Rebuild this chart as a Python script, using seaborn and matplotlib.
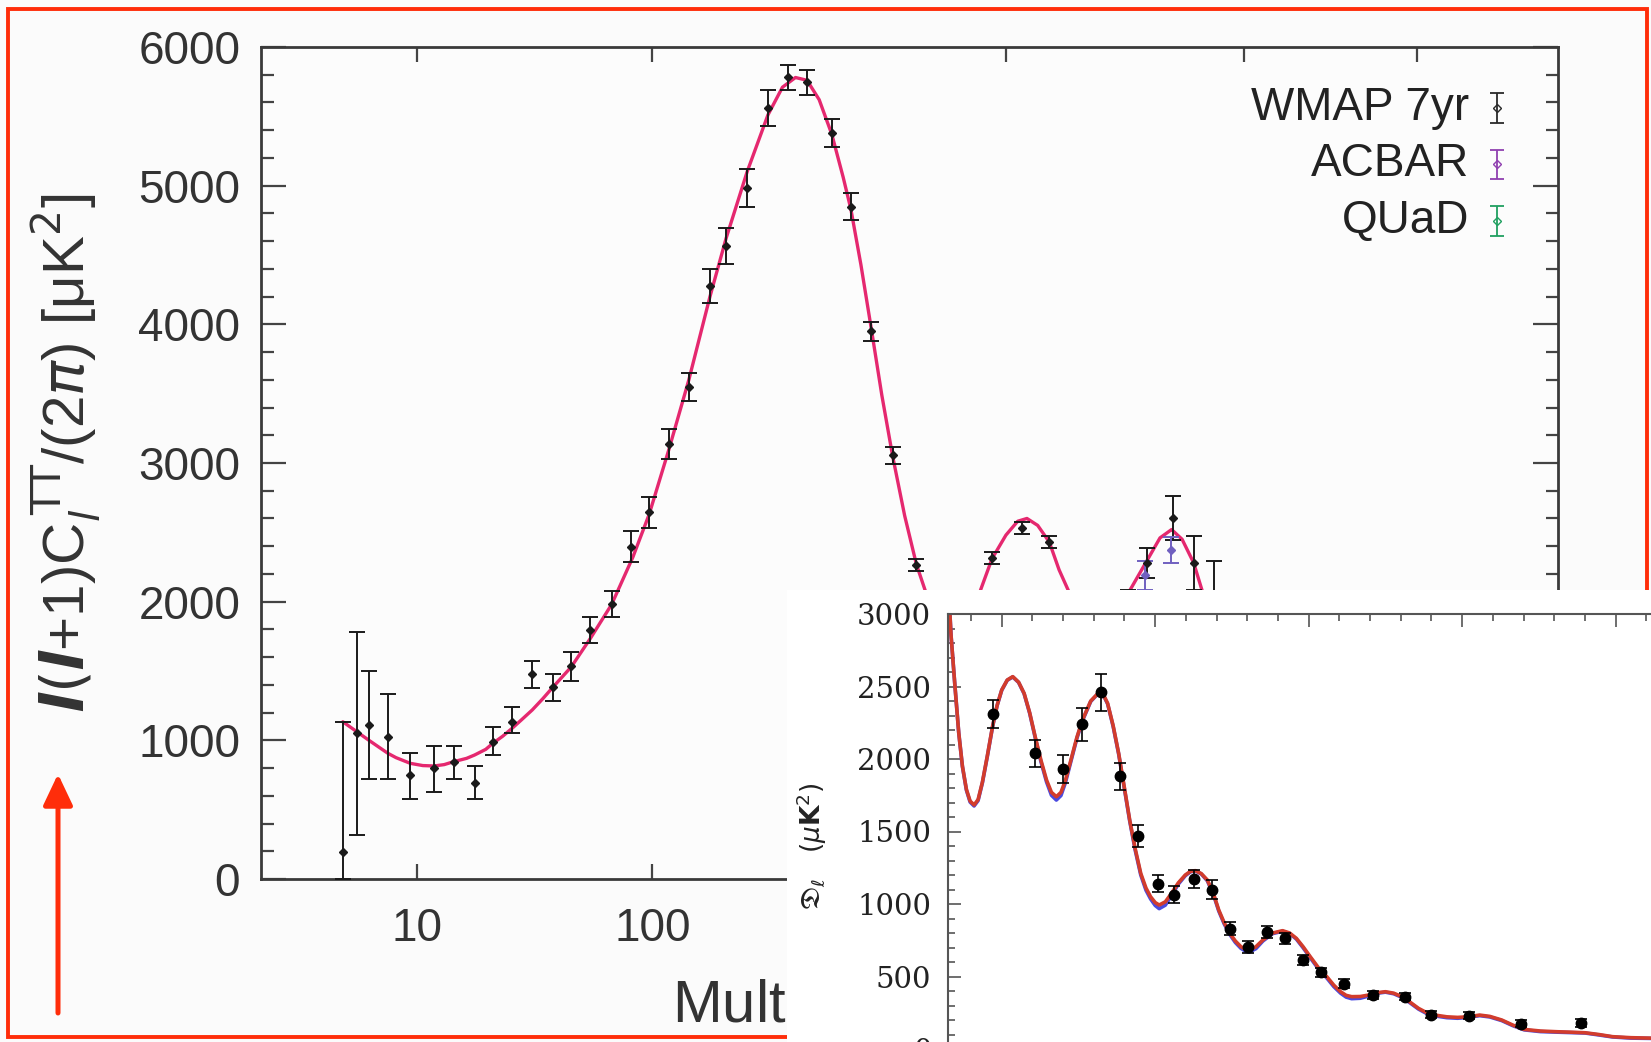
import numpy as np
import matplotlib
matplotlib.use("Agg")
import matplotlib.pyplot as plt
import seaborn as sns
from matplotlib.ticker import MultipleLocator, NullLocator
from matplotlib.patches import Rectangle, FancyArrowPatch

# ---- main panel: WMAP 7yr TT spectrum ----
wmap_model_l = [2, 3, 4, 5, 6, 7, 9, 11, 13, 15, 17, 20, 22, 25, 27, 30, 33, 36, 40, 44,
                48, 56, 65, 76, 88, 98, 111, 125, 141, 154, 172, 191, 205, 218, 230, 243,
                257, 270, 279, 291, 304, 317, 331, 347, 363, 380, 400, 420, 440, 459, 477,
                500, 520, 536, 555, 576, 594, 611, 630, 660, 690, 715, 735, 772, 800, 826,
                850, 877, 900, 930, 960, 1000, 1050, 1100]
wmap_model_d = [1134, 1060, 1000, 950, 906, 875, 834, 818, 815, 825, 846, 870, 894, 935,
                978, 1030, 1087, 1145, 1219, 1300, 1382, 1530, 1735, 1980, 2320, 2630, 3100,
                3600, 4200, 4620, 5100, 5510, 5710, 5780, 5760, 5620, 5370, 5060, 4830, 4430,
                3960, 3490, 3050, 2620, 2270, 2010, 1830, 1760, 1830, 2090, 2310, 2480, 2580,
                2600, 2550, 2430, 2230, 2084, 1900, 1760, 1790, 1930, 2084, 2300, 2460, 2520,
                2450, 2280, 2050, 1750, 1450, 1150, 950, 900]

wmap_l = [2, 3, 4, 6, 9, 13, 17, 22, 27, 33, 40, 48, 56, 65, 76, 87, 98, 111, 125, 141,
          154, 172, 191, 210, 230, 257, 279, 304, 331, 363, 477, 528, 576, 730, 772, 830,
          877, 925]
wmap_d = [197, 1051, 1110, 1026, 750, 798, 841, 695, 990, 1134, 1476, 1382, 1535, 1795,
          1983, 2397, 2644, 3137, 3548, 4274, 4562, 4986, 5562, 5781, 5745, 5380, 4848,
          3951, 3055, 2264, 2315, 2531, 2430, 1950, 2281, 2603, 2279, 1990]
wmap_err_lo = [197, 734, 389, 305, 175, 173, 122, 120, 96, 83, 96, 95, 105, 95, 96, 110,
               110, 110, 103, 123, 130, 137, 129, 90, 90, 100, 96, 68, 60, 45, 45, 45, 45,
               134, 108, 161, 192, 300]
wmap_err_hi = [937, 732, 392, 306, 156, 163, 120, 122, 108, 109, 96, 95, 105, 95, 96, 110,
               110, 110, 103, 123, 130, 137, 129, 90, 90, 100, 96, 68, 60, 45, 45, 45, 45,
               134, 108, 161, 192, 300]

acbar_l = [768, 824]
acbar_d = [2190, 2373]
acbar_err = [105, 96]

main_xticks = [10, 100, 500, 1000, 1500]
legend_labels = ["WMAP 7yr", "ACBAR", "QUaD"]
legend_colors = ["#2a2a2a", "#9040b0", "#20a060"]

# ---- inset: high-l spectrum ----
hi_model_l = [325, 335, 347, 360, 372, 385, 397, 410, 423, 437,
              453, 470, 485, 500, 518, 536, 555, 573, 591, 609,
              628, 646, 662, 678, 693, 708, 725, 745, 763, 790,
              817, 832, 845, 863, 881, 899, 917, 935, 953, 970,
              985, 1000, 1013, 1033, 1053, 1075, 1098, 1115, 1131, 1150,
              1170, 1190, 1207, 1225, 1243, 1261, 1279, 1293, 1306, 1328,
              1351, 1383, 1415, 1438, 1460, 1482, 1505, 1532, 1559, 1582,
              1604, 1622, 1640, 1668, 1695, 1722, 1750, 1777, 1804, 1831,
              1858, 1885, 1912, 1950, 1985, 2020, 2057, 2090, 2129, 2165,
              2202, 2255, 2310, 2355, 2401, 2445, 2490, 2550, 2614, 2700]
hi_model_red = [3250, 2850, 2520, 2180, 1950, 1790, 1710, 1683, 1720, 1840,
                2020, 2223, 2370, 2476, 2545, 2568, 2530, 2453, 2320, 2154,
                1990, 1855, 1770, 1740, 1770, 1855, 1990, 2150, 2269, 2400,
                2460, 2440, 2384, 2230, 2039, 1810, 1579, 1380, 1211, 1110,
                1050, 1010, 993, 1015, 1073, 1145, 1200, 1225, 1230, 1210,
                1165, 1070, 959, 870, 798, 745, 706, 690, 683, 705,
                752, 800, 816, 800, 763, 705, 637, 560, 499, 440,
                395, 370, 361, 362, 372, 388, 395, 385, 361, 322,
                280, 250, 234, 222, 218, 222, 234, 225, 200, 165,
                135, 124, 119, 116, 112, 100, 85, 78, 75, 65]
hi_model_blue = [3250, 2850, 2520, 2180, 1948, 1785, 1703, 1676, 1713, 1835,
                 2016, 2220, 2368, 2474, 2543, 2566, 2528, 2450, 2316, 2148,
                 1980, 1842, 1750, 1717, 1748, 1840, 1980, 2143, 2264, 2397,
                 2458, 2437, 2380, 2225, 2034, 1804, 1572, 1370, 1200, 1095,
                 1035, 990, 968, 992, 1058, 1136, 1195, 1222, 1228, 1207,
                 1160, 1063, 952, 862, 790, 735, 695, 676, 668, 692,
                 745, 796, 812, 796, 758, 698, 630, 552, 490, 430,
                 385, 358, 347, 350, 365, 384, 392, 381, 356, 317,
                 275, 244, 228, 216, 212, 218, 230, 221, 196, 161,
                 132, 120, 116, 113, 110, 97, 83, 75, 73, 63]

hi_l = [470, 609, 700, 763, 823, 886, 944, 1008, 1062, 1125, 1185, 1243, 1302, 1364, 1424,
        1483, 1541, 1614, 1709, 1813, 1900, 2021, 2193, 2388]
hi_d = [2310, 2040, 1930, 2240, 2460, 1880, 1470, 1140, 1065, 1170, 1100, 830, 705, 805,
        765, 615, 530, 450, 372, 362, 236, 230, 174, 177]
hi_err = [97, 94, 95, 113, 126, 94, 75, 58, 58, 63, 63, 45, 40, 40, 38, 35, 32, 30, 28,
          27, 25, 25, 25, 28]

sns.set_theme(style="ticks")
plt.rcParams["font.family"] = ["Liberation Sans", "DejaVu Sans"]

W, H = 1651, 1042
RED = "#ff2d0a"
fig = plt.figure(figsize=(W / 100, H / 100), dpi=100, facecolor="#fbfbfb")


def fwd(x):
    return np.power(np.clip(x, 0, None), 0.4)


def inv(y):
    return np.power(np.clip(y, 0, None), 2.5)


# main axes
ax = fig.add_axes([261 / W, 1 - 879 / H, 1297 / W, 832 / H], zorder=2)
ax.set_facecolor("#fcfcfc")
ax.set_xscale("function", functions=(fwd, inv))

sns.lineplot(x=wmap_model_l, y=wmap_model_d, ax=ax, color="#e5286f", linewidth=2.4,
             zorder=2)
ax.errorbar(wmap_l, wmap_d, yerr=[wmap_err_lo, wmap_err_hi], fmt="D", ms=3.8,
            color="#1a1a1a", elinewidth=1.4, capsize=6, capthick=1.4, zorder=3)
ax.errorbar(acbar_l, acbar_d, yerr=acbar_err, fmt="D", ms=3.8, color="#7060c0",
            elinewidth=1.4, capsize=6, capthick=1.4, zorder=3)

ax.set_xlim(0, 2000)
ax.set_ylim(0, 6000)
ax.set_xticks(main_xticks)
ax.set_xticklabels([str(t) for t in main_xticks])
ax.xaxis.set_minor_locator(NullLocator())
ax.yaxis.set_major_locator(MultipleLocator(1000))
ax.yaxis.set_minor_locator(MultipleLocator(200))
ax.tick_params(which="both", direction="in", top=True, right=True, labeltop=False,
               labelright=False, width=1.6, color="#444444")
ax.tick_params(axis="y", which="major", length=18, labelsize=33, pad=15,
               labelcolor="#333333")
ax.tick_params(axis="y", which="minor", length=9)
ax.tick_params(axis="x", which="major", length=11, labelsize=33, pad=20,
               labelcolor="#333333")
for s in ax.spines.values():
    s.set_linewidth(2)
    s.set_color("#3a3a3a")

ax.set_ylabel(r"$\mathbfit{l}(\mathbfit{l}$+1)C$_{\mathit{l}}^{\,\mathrm{TT}}$/(2$\pi$) [μK$^2$]",
              fontsize=42, color="#333333")
ax.yaxis.set_label_coords(-0.122, 0.512)
ax.set_xlabel(r"Multipole moment $\mathbfit{l}$", fontsize=43, color="#333333", ha="left")
ax.xaxis.set_label_coords((672 - 261) / 1297, -0.114)

# legend drawn gnuplot-style: text right, symbol after it
for i, (lab, col) in enumerate(zip(legend_labels, legend_colors)):
    y = 0.9267 - i * 0.0679
    ax.text(0.9314, y, lab, transform=ax.transAxes, ha="right", va="center",
            fontsize=33, color="#222222")
    ax.errorbar([0.953], [y], yerr=[[0.018], [0.018]], transform=ax.transAxes, fmt="D",
                ms=4, mfc="none", mec=col, color=col, elinewidth=1.3, capsize=5,
                capthick=1.3, clip_on=False)
ax.set_xlim(0, 2000)
ax.set_ylim(0, 6000)

# red frame and arrow
fig.add_artist(Rectangle((8 / W, 1 - 1037 / H), (1647 - 8) / W, (1037 - 9) / H,
                         transform=fig.transFigure, fill=False, edgecolor=RED, lw=2.8,
                         zorder=3))
fig.add_artist(FancyArrowPatch((58 / W, 1 - 1013 / H), (58 / W, 1 - 774 / H),
                               transform=fig.transFigure,
                               arrowstyle="-|>,head_length=0.95,head_width=0.45",
                               mutation_scale=20, color=RED, lw=3.6, shrinkA=0,
                               shrinkB=0, zorder=3))

# white patch under the inset
fig.add_artist(Rectangle((787 / W, 0), (W - 787) / W, 452 / H, transform=fig.transFigure,
                         facecolor="white", edgecolor="none", zorder=5))

# inset axes
ax2 = fig.add_axes([948 / W, -7 / H, 729 / W, 435 / H], zorder=6)
ax2.set_facecolor("white")
sns.lineplot(x=hi_model_l, y=hi_model_blue, ax=ax2, color="#4a4ae0", linewidth=2.6,
             zorder=2)
sns.lineplot(x=hi_model_l, y=hi_model_red, ax=ax2, color="#d23c2c", linewidth=2.6,
             zorder=2)
ax2.errorbar(hi_l, hi_d, yerr=hi_err, fmt="o", ms=7.5, color="black", elinewidth=1.2,
             capsize=4, capthick=1.2, zorder=3)
ax2.set_xlim(325, 2700)
ax2.set_ylim(0, 3000)
ax2.xaxis.set_major_locator(MultipleLocator(500))
ax2.xaxis.set_minor_locator(MultipleLocator(100))
ax2.yaxis.set_major_locator(MultipleLocator(500))
ax2.yaxis.set_minor_locator(MultipleLocator(100))
ax2.tick_params(which="both", direction="in", top=True, right=False, bottom=False,
                labelbottom=False, width=1.2, color="#555555")
ax2.tick_params(which="major", length=9)
ax2.tick_params(which="minor", length=5)
ax2.tick_params(axis="y", labelsize=21, pad=12, labelfontfamily="DejaVu Serif",
                labelcolor="#222222")
for s in ax2.spines.values():
    s.set_linewidth(1.5)
    s.set_color("#555555")
ax2.set_ylabel(r"$\mathfrak{D}_\ell\ \ \ (\mu\mathbf{K}^2)$", fontsize=19, color="#222222")
ax2.yaxis.set_label_coords(-0.163, 0.467)

fig.savefig("out.png", dpi=100, facecolor=fig.get_facecolor())
